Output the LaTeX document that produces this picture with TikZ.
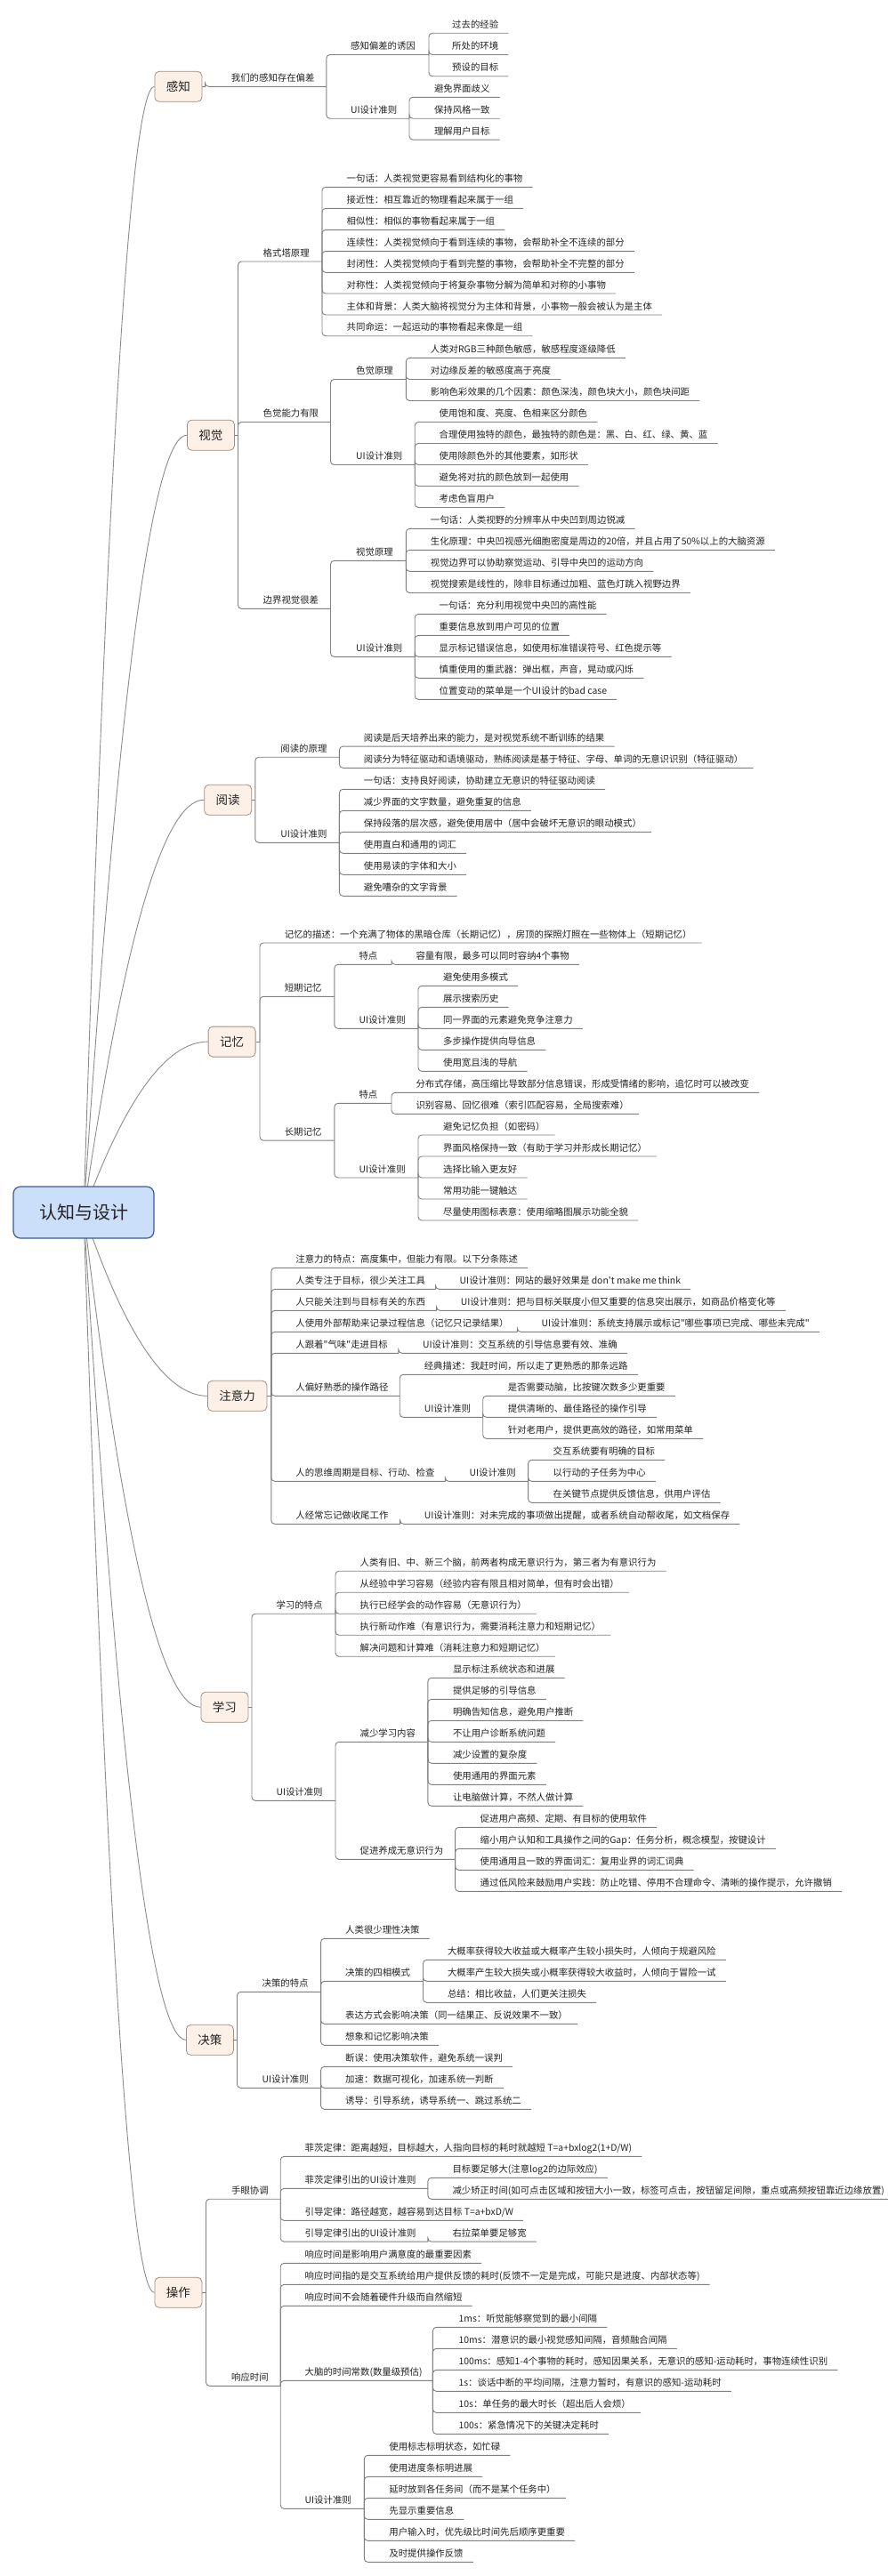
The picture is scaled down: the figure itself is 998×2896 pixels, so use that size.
\documentclass[tikz,border=0pt]{standalone}
\usepackage{fontspec}
\setmainfont{Noto Sans CJK SC}[Ligatures=TeXOff]
\usetikzlibrary{calc}
\pgfdeclarelayer{bg}
\pgfsetlayers{bg,main}
\definecolor{linegray}{HTML}{808080}
\definecolor{curvegray}{HTML}{8C8C8C}
\definecolor{mainfill}{HTML}{FDF1E7}
\definecolor{mainborder}{HTML}{9E8E80}
\definecolor{rootfill}{HTML}{CCDFFA}
\definecolor{rootborder}{HTML}{3D5A93}
\definecolor{txtcol}{HTML}{222222}
\tikzset{
  txt/.style={inner xsep=11pt, inner ysep=3.5pt, text height=8pt, text depth=2.2pt, font=\fontsize{10.4}{12}\selectfont, text=txtcol},
  conn/.style={draw=linegray, line width=0.9pt, rounded corners=4pt},
  mainbox/.style={draw=mainborder, fill=mainfill, rounded corners=5pt, line width=0.8pt, inner xsep=13pt, minimum height=34pt, font=\fontsize{13.5}{15}\selectfont, text=txtcol},
  rootbox/.style={draw=rootborder, fill=rootfill, rounded corners=8pt, line width=1.2pt, minimum width=158pt, minimum height=58pt, font=\fontsize{20}{22}\selectfont, text=txtcol},
  rootcurve/.style={draw=curvegray, line width=0.9pt}
}
\def\padx{11}
\newcommand\rootlink[1]{\begin{pgfonlayer}{bg}\draw[rootcurve] let \p1=(root.center), \p2=(#1.west) in (\p1) .. controls ({\x1+(\x2-\x1)/3},{\y1+2*(\y2-\y1)/3}) and ({\x2-(\x2-\x1)/3},{\y2}) .. (\p2);\end{pgfonlayer}}
\newcommand\mmmain[5]{\node[mainbox,anchor=west] (#1) at (#2,#3) {#5};\coordinate (#1s) at (#4,#3);\draw[conn] (#1.east) -- (#1s);\rootlink{#1}}
\newcommand\mmint[6]{\node[txt,anchor=south west] (#1) at ({#3-\padx},#4) {#6};\coordinate (#1s) at (#5,#4);\draw[conn] (#2) |- (#1s);}
\newcommand\mmleaf[5]{\node[txt,anchor=south west] (#1) at ({#3-\padx},#4) {#5};\draw[conn] (#2) |- (#1.south east);}
\begin{document}
\begin{tikzpicture}[x=1pt,y=-1pt]
\begin{pgfonlayer}{bg}
\fill[white] (0,0) rectangle (998,2896);
\end{pgfonlayer}
\useasboundingbox (0,0) rectangle (998,2896);
\node[rootbox] (root) at (94,1363) {认知与设计};
% ---------- 感知
\mmmain{A}{173.5}{97.3}{230.5}{感知}
\mmint{A1}{As}{259.7}{97.3}{366.8}{我们的感知存在偏差}
\mmint{A11}{A1s}{393.9}{61.5}{482}{感知偏差的诱因}
\mmleaf{A111}{A11s}{508}{37.3}{过去的经验}
\mmleaf{A112}{A11s}{508}{61.5}{所处的环境}
\mmleaf{A113}{A11s}{508}{85.7}{预设的目标}
\mmint{A12}{A1s}{393.9}{133.2}{460}{UI设计准则}
\mmleaf{A121}{A12s}{487.8}{109.3}{避免界面歧义}
\mmleaf{A122}{A12s}{487.8}{133.2}{保持风格一致}
\mmleaf{A123}{A12s}{487.8}{157.1}{理解用户目标}
% ---------- 视觉
\mmmain{B}{210}{489.2}{267.5}{视觉}
\mmint{B1}{Bs}{295.5}{294}{362}{格式塔原理}
\mmleaf{B11}{B1s}{389.5}{210.3}{一句话：人类视觉更容易看到结构化的事物}
\mmleaf{B12}{B1s}{389.5}{234.3}{接近性：相互靠近的物理看起来属于一组}
\mmleaf{B13}{B1s}{389.5}{258.3}{相似性：相似的事物看起来属于一组}
\mmleaf{B14}{B1s}{389.5}{282.3}{连续性：人类视觉倾向于看到连续的事物，会帮助补全不连续的部分}
\mmleaf{B15}{B1s}{389.5}{306.3}{封闭性：人类视觉倾向于看到完整的事物，会帮助补全不完整的部分}
\mmleaf{B16}{B1s}{389.5}{330}{对称性：人类视觉倾向于将复杂事物分解为简单和对称的小事物}
\mmleaf{B17}{B1s}{389.5}{354}{主体和背景：人类大脑将视觉分为主体和背景，小事物一般会被认为是主体}
\mmleaf{B18}{B1s}{389.5}{377.7}{共同命运：一起运动的事物看起来像是一组}
\mmint{B2}{Bs}{295.5}{474.5}{371.5}{色觉能力有限}
\mmint{B21}{B2s}{400}{426.5}{456.3}{色觉原理}
\mmleaf{B211}{B21s}{483.7}{402.3}{人类对RGB三种颜色敏感，敏感程度逐级降低}
\mmleaf{B212}{B21s}{483.7}{426.5}{对边缘反差的敏感度高于亮度}
\mmleaf{B213}{B21s}{483.7}{450.5}{影响色彩效果的几个因素：颜色深浅，颜色块大小，颜色块间距}
\mmint{B22}{B2s}{400}{522.5}{466.2}{UI设计准则}
\mmleaf{B221}{B22s}{493.5}{474.5}{使用饱和度、亮度、色相来区分颜色}
\mmleaf{B222}{B22s}{493.5}{498.5}{合理使用独特的颜色，最独特的颜色是：黑、白、红、绿、黄、蓝}
\mmleaf{B223}{B22s}{493.5}{522.5}{使用除颜色外的其他要素，如形状}
\mmleaf{B224}{B22s}{493.5}{546.5}{避免将对抗的颜色放到一起使用}
\mmleaf{B225}{B22s}{493.5}{570.5}{考虑色盲用户}
\mmint{B3}{Bs}{295.5}{684.35}{371.5}{边界视觉很差}
\mmint{B31}{B3s}{400}{630.4}{456.3}{视觉原理}
\mmleaf{B311}{B31s}{483.7}{594.3}{一句话：人类视野的分辨率从中央凹到周边锐减}
\mmleaf{B312}{B31s}{483.7}{618.3}{生化原理：中央凹视感光细胞密度是周边的20倍，并且占用了50\%以上的大脑资源}
\mmleaf{B313}{B31s}{483.7}{642.3}{视觉边界可以协助察觉运动、引导中央凹的运动方向}
\mmleaf{B314}{B31s}{483.7}{666.5}{视觉搜索是线性的，除非目标通过加粗、蓝色灯跳入视野边界}
\mmint{B32}{B3s}{400}{738.3}{466.2}{UI设计准则}
\mmleaf{B321}{B32s}{493.5}{690.3}{一句话：充分利用视觉中央凹的高性能}
\mmleaf{B322}{B32s}{493.5}{714.3}{重要信息放到用户可见的位置}
\mmleaf{B323}{B32s}{493.5}{738.3}{显示标记错误信息，如使用标准错误符号、红色提示等}
\mmleaf{B324}{B32s}{493.5}{762.3}{慎重使用的重武器：弹出框，声音，晃动或闪烁}
\mmleaf{B325}{B32s}{493.5}{786.3}{位置变动的菜单是一个UI设计的bad case}
% ---------- 阅读
\mmmain{C}{229.3}{899.25}{286.8}{阅读}
\mmint{C1}{Cs}{315.2}{851.2}{381.4}{阅读的原理}
\mmleaf{C11}{C1s}{408.7}{839.1}{阅读是后天培养出来的能力，是对视觉系统不断训练的结果}
\mmleaf{C12}{C1s}{408.7}{863.3}{阅读分为特征驱动和语境驱动，熟练阅读是基于特征、字母、单词的无意识识别（特征驱动）}
\mmint{C2}{Cs}{315.2}{947.3}{381.4}{UI设计准则}
\mmleaf{C21}{C2s}{408.7}{887.3}{一句话：支持良好阅读，协助建立无意识的特征驱动阅读}
\mmleaf{C22}{C2s}{408.7}{911.3}{减少界面的文字数量，避免重复的信息}
\mmleaf{C23}{C2s}{408.7}{935.3}{保持段落的层次感，避免使用居中（居中会破坏无意识的眼动模式）}
\mmleaf{C24}{C2s}{408.7}{959.3}{使用直白和通用的词汇}
\mmleaf{C25}{C2s}{408.7}{983.3}{使用易读的字体和大小}
\mmleaf{C26}{C2s}{408.7}{1007.3}{避免嘈杂的文字背景}
% ---------- 记忆
\mmmain{D}{233.7}{1171.1}{292}{记忆}
\mmleaf{D1}{Ds}{319.6}{1060}{记忆的描述：一个充满了物体的黑暗仓库（长期记忆），房顶的探照灯照在一些物体上（短期记忆）}
\mmint{D2}{Ds}{319.6}{1120.3}{375.9}{短期记忆}
\mmint{D21}{D2s}{403.3}{1084.3}{440}{特点}
\mmleaf{D211}{D21s}{467.3}{1084.3}{容量有限，最多可以同时容纳4个事物}
\mmint{D22}{D2s}{403.3}{1156.3}{470}{UI设计准则}
\mmleaf{D221}{D22s}{497.9}{1108.3}{避免使用多模式}
\mmleaf{D222}{D22s}{497.9}{1132.3}{展示搜索历史}
\mmleaf{D223}{D22s}{497.9}{1156.3}{同一界面的元素避免竞争注意力}
\mmleaf{D224}{D22s}{497.9}{1180.3}{多步操作提供向导信息}
\mmleaf{D225}{D22s}{497.9}{1204.3}{使用宽且浅的导航}
\mmint{D3}{Ds}{319.6}{1282.15}{375.9}{长期记忆}
\mmint{D31}{D3s}{403.3}{1240.3}{440}{特点}
\mmleaf{D311}{D31s}{467.3}{1228.3}{分布式存储，高压缩比导致部分信息错误，形成受情绪的影响，追忆时可以被改变}
\mmleaf{D312}{D31s}{467.3}{1252.3}{识别容易、回忆很难（索引匹配容易，全局搜索难）}
\mmint{D32}{D3s}{403.3}{1324}{470}{UI设计准则}
\mmleaf{D321}{D32s}{497.9}{1276}{避免记忆负担（如密码）}
\mmleaf{D322}{D32s}{497.9}{1300}{界面风格保持一致（有助于学习并形成长期记忆）}
\mmleaf{D323}{D32s}{497.9}{1324}{选择比输入更友好}
\mmleaf{D324}{D32s}{497.9}{1348}{常用功能一键触达}
\mmleaf{D325}{D32s}{497.9}{1372}{尽量使用图标表意：使用缩略图展示功能全貌}
% ---------- 注意力
\mmmain{E}{233}{1569.3}{304.8}{注意力}
\mmleaf{E1}{Es}{332.2}{1425.3}{注意力的特点：高度集中，但能力有限。以下分条陈述}
\mmint{E2}{Es}{332.2}{1449.3}{489.5}{人类专注于目标，很少关注工具}
\mmleaf{E21}{E2s}{516.5}{1449.3}{UI设计准则：网站的最好效果是 don't make me think}
\mmint{E3}{Es}{332.2}{1473.3}{490.6}{人只能关注到与目标有关的东西}
\mmleaf{E31}{E3s}{517.6}{1473.3}{UI设计准则：把与目标关联度小但又重要的信息突出展示，如商品价格变化等}
\mmint{E4}{Es}{332.2}{1497.3}{581.4}{人使用外部帮助来记录过程信息（记忆只记录结果）}
\mmleaf{E41}{E4s}{608.4}{1497.3}{UI设计准则：系统支持展示或标记"哪些事项已完成、哪些未完成"}
\mmint{E5}{Es}{332.2}{1521.3}{447.9}{人跟着"气味"走进目标}
\mmleaf{E51}{E5s}{474.9}{1521.3}{UI设计准则：交互系统的引导信息要有效、准确}
\mmint{E6}{Es}{332.2}{1569.3}{449.2}{人偏好熟悉的操作路径}
\mmleaf{E61}{E6s}{476.6}{1545.3}{经典描述：我赶时间，所以走了更熟悉的那条远路}
\mmint{E62}{E6s}{476.6}{1593.3}{542.7}{UI设计准则}
\mmleaf{E621}{E62s}{570.6}{1569.3}{是否需要动脑，比按键次数多少更重要}
\mmleaf{E622}{E62s}{570.6}{1593.3}{提供清晰的、最佳路径的操作引导}
\mmleaf{E623}{E62s}{570.6}{1617.3}{针对老用户，提供更高效的路径，如常用菜单}
\mmint{E7}{Es}{332.2}{1665.3}{500.4}{人的思维周期是目标、行动、检查}
\mmint{E71}{E7s}{527.4}{1665.3}{593.6}{UI设计准则}
\mmleaf{E711}{E71s}{621.5}{1641.3}{交互系统要有明确的目标}
\mmleaf{E712}{E71s}{621.5}{1665.3}{以行动的子任务为中心}
\mmleaf{E713}{E71s}{621.5}{1689.3}{在关键节点提供反馈信息，供用户评估}
\mmint{E8}{Es}{332.2}{1713.3}{449.6}{人经常忘记做收尾工作}
\mmleaf{E81}{E8s}{476.6}{1713.3}{UI设计准则：对未完成的事项做出提醒，或者系统自动帮收尾，如文档保存}
% ---------- 学习
\mmmain{F}{225.5}{1919.25}{283}{学习}
\mmint{F1}{Fs}{310.3}{1814.2}{377}{学习的特点}
\mmleaf{F11}{F1s}{404.4}{1766.2}{人类有旧、中、新三个脑，前两者构成无意识行为，第三者为有意识行为}
\mmleaf{F12}{F1s}{404.4}{1790.2}{从经验中学习容易（经验内容有限且相对简单，但有时会出错）}
\mmleaf{F13}{F1s}{404.4}{1814.2}{执行已经学会的动作容易（无意识行为）}
\mmleaf{F14}{F1s}{404.4}{1838.2}{执行新动作难（有意识行为，需要消耗注意力和短期记忆）}
\mmleaf{F15}{F1s}{404.4}{1862.2}{解决问题和计算难（消耗注意力和短期记忆）}
\mmint{F2}{Fs}{310.3}{2024.3}{377}{UI设计准则}
\mmint{F21}{F2s}{404.4}{1958.3}{480.9}{减少学习内容}
\mmleaf{F211}{F21s}{508.8}{1886.3}{显示标注系统状态和进展}
\mmleaf{F212}{F21s}{508.8}{1910.3}{提供足够的引导信息}
\mmleaf{F213}{F21s}{508.8}{1934.3}{明确告知信息，避免用户推断}
\mmleaf{F214}{F21s}{508.8}{1958.3}{不让用户诊断系统问题}
\mmleaf{F215}{F21s}{508.8}{1982.3}{减少设置的复杂度}
\mmleaf{F216}{F21s}{508.8}{2006.3}{使用通用的界面元素}
\mmleaf{F217}{F21s}{508.8}{2030.3}{让电脑做计算，不然人做计算}
\mmint{F22}{F2s}{404.4}{2090.3}{511.6}{促进养成无意识行为}
\mmleaf{F221}{F22s}{539.5}{2054.3}{促进用户高频、定期、有目标的使用软件}
\mmleaf{F222}{F22s}{539.5}{2078.3}{缩小用户认知和工具操作之间的Gap：任务分析，概念模型，按键设计}
\mmleaf{F223}{F22s}{539.5}{2102.3}{使用通用且一致的界面词汇：复用业界的词汇词典}
\mmleaf{F224}{F22s}{539.5}{2126.3}{通过低风险来鼓励用户实践：防止吃错、停用不合理命令、清晰的操作提示，允许撤销}
% ---------- 决策
\mmmain{G}{209}{2293.3}{266.5}{决策}
\mmint{G1}{Gs}{294.4}{2239.3}{360.6}{决策的特点}
\mmleaf{G11}{G1s}{388}{2179.3}{人类很少理性决策}
\mmint{G12}{G1s}{388}{2227.3}{475.5}{决策的四相模式}
\mmleaf{G121}{G12s}{502.8}{2203.3}{大概率获得较大收益或大概率产生较小损失时，人倾向于规避风险}
\mmleaf{G122}{G12s}{502.8}{2227.3}{大概率产生较大损失或小概率获得较大收益时，人倾向于冒险一试}
\mmleaf{G123}{G12s}{502.8}{2251.3}{总结：相比收益，人们更关注损失}
\mmleaf{G13}{G1s}{388}{2275.3}{表达方式会影响决策（同一结果正、反说效果不一致）}
\mmleaf{G14}{G1s}{388}{2299.3}{想象和记忆影响决策}
\mmint{G2}{Gs}{294.4}{2347.3}{360.6}{UI设计准则}
\mmleaf{G21}{G2s}{388}{2323.3}{断误：使用决策软件，避免系统一误判}
\mmleaf{G22}{G2s}{388}{2347.3}{加速：数据可视化，加速系统一判断}
\mmleaf{G23}{G2s}{388}{2371.3}{诱导：引导系统，诱导系统一、跳过系统二}
% ---------- 操作
\mmmain{H}{173.5}{2577.25}{231.5}{操作}
\mmint{H1}{Hs}{259.9}{2472.2}{315.2}{手眼协调}
\mmleaf{H11}{H1s}{342.5}{2424.3}{菲茨定律：距离越短，目标越大，人指向目标的耗时就越短 T=a+bxlog2(1+D/W)}
\mmint{H12}{H1s}{342.5}{2460.3}{480.9}{菲茨定律引出的UI设计准则}
\mmleaf{H121}{H12s}{508.3}{2448.3}{目标要足够大(注意log2的边际效应)}
\mmleaf{H122}{H12s}{508.3}{2472.3}{减少矫正时间(如可点击区域和按钮大小一致，标签可点击，按钮留足间隙，重点或高频按钮靠近边缘放置)}
\mmleaf{H13}{H1s}{342.5}{2496.3}{引导定律：路径越宽，越容易到达目标 T=a+bxD/W}
\mmint{H14}{H1s}{342.5}{2520.1}{480.9}{引导定律引出的UI设计准则}
\mmleaf{H141}{H14s}{508.3}{2520.1}{右拉菜单要足够宽}
\mmint{H2}{Hs}{259.9}{2682.3}{315.2}{响应时间}
\mmleaf{H21}{H2s}{342.5}{2544.3}{响应时间是影响用户满意度的最重要因素}
\mmleaf{H22}{H2s}{342.5}{2568.3}{响应时间指的是交互系统给用户提供反馈的耗时(反馈不一定是完成，可能只是进度、内部状态等)}
\mmleaf{H23}{H2s}{342.5}{2592.3}{响应时间不会随着硬件升级而自然缩短}
\mmint{H24}{H2s}{342.5}{2676.3}{486.4}{大脑的时间常数(数量级预估)}
\mmleaf{H241}{H24s}{515.4}{2616.3}{1ms：听觉能够察觉到的最小间隔}
\mmleaf{H242}{H24s}{515.4}{2640.3}{10ms：潜意识的最小视觉感知间隔，音频融合间隔}
\mmleaf{H243}{H24s}{515.4}{2664.3}{100ms：感知1-4个事物的耗时，感知因果关系，无意识的感知-运动耗时，事物连续性识别}
\mmleaf{H244}{H24s}{515.4}{2688.3}{1s：谈话中断的平均间隔，注意力暂时，有意识的感知-运动耗时}
\mmleaf{H245}{H24s}{515.4}{2712.3}{10s：单任务的最大时长（超出后人会烦）}
\mmleaf{H246}{H24s}{515.4}{2736.3}{100s：紧急情况下的关键决定耗时}
\mmint{H25}{H2s}{342.5}{2820.3}{409.3}{UI设计准则}
\mmleaf{H251}{H25s}{437.2}{2760.3}{使用标志标明状态，如忙碌}
\mmleaf{H252}{H25s}{437.2}{2784.3}{使用进度条标明进展}
\mmleaf{H253}{H25s}{437.2}{2808.3}{延时放到各任务间（而不是某个任务中）}
\mmleaf{H254}{H25s}{437.2}{2832.3}{先显示重要信息}
\mmleaf{H255}{H25s}{437.2}{2856.3}{用户输入时，优先级比时间先后顺序更重要}
\mmleaf{H256}{H25s}{437.2}{2880.3}{及时提供操作反馈}
\end{tikzpicture}
\end{document}
